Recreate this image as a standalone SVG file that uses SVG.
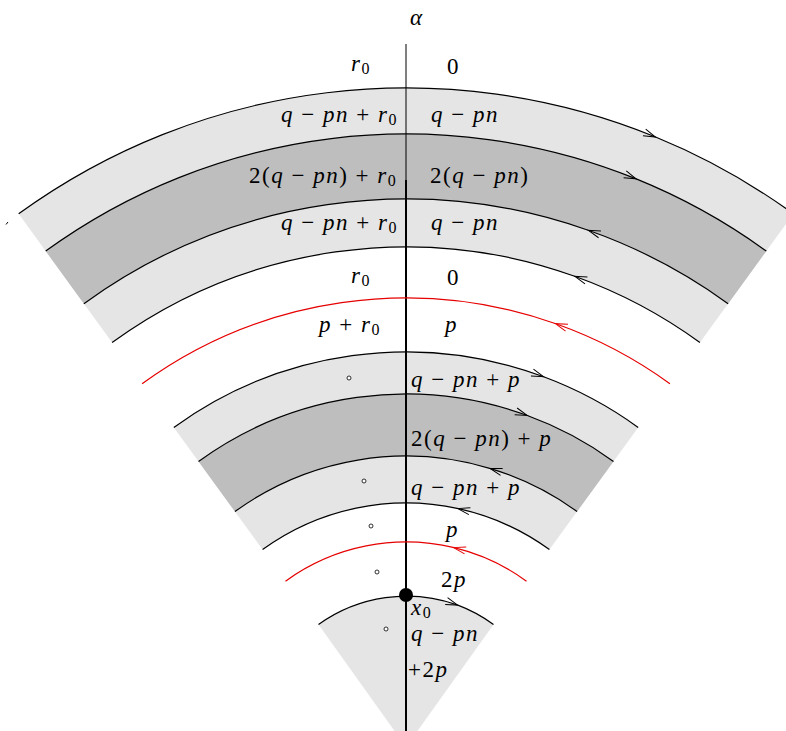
<svg xmlns="http://www.w3.org/2000/svg" width="786" height="731" viewBox="0 0 786 731">
<defs>
<style>
.lg{fill:#e5e5e5;stroke:none}
.dg{fill:#bebebe;stroke:none}
.arc{fill:none;stroke:#000;stroke-width:1.2}
.red{fill:none;stroke:#e60000;stroke-width:1.2}
.m{font-size:23px;font-style:italic;fill:#000;letter-spacing:1.5px}
.u{font-style:normal}
.s{font-size:16px;font-style:normal}
.pt{fill:#fff;stroke:#000;stroke-width:0.8}
</style>
<marker id="ah" markerUnits="userSpaceOnUse" markerWidth="14" markerHeight="10" refX="12" refY="4" orient="auto" overflow="visible"><path d="M0.5,0.4 L12.5,4 L0.5,7.6" fill="none" stroke="#000" stroke-width="1"/></marker>
<marker id="ahr" markerUnits="userSpaceOnUse" markerWidth="14" markerHeight="10" refX="12" refY="4" orient="auto" overflow="visible"><path d="M0.5,0.4 L12.5,4 L0.5,7.6" fill="none" stroke="#e60000" stroke-width="1"/></marker>
</defs>
<rect x="0" y="0" width="786" height="731" fill="#fff"/>
<g id="bands">
<path class="lg" d="M18.65,213.86 A659,659 0 0 1 793.35,213.86 L699.89,342.49 A500,500 0 0 0 112.11,342.49 Z"/>
<path class="dg" d="M45.68,251.07 A613,613 0 0 1 766.32,251.07 L728.11,303.66 A548,548 0 0 0 83.89,303.66 Z"/>
<path class="lg" d="M173.82,427.44 A395,395 0 0 1 638.18,427.44 L549.42,549.6 A244,244 0 0 0 262.58,549.6 Z"/>
<path class="dg" d="M198.51,461.42 A353,353 0 0 1 613.49,461.42 L577.05,511.58 A291,291 0 0 0 234.95,511.58 Z"/>
<path class="lg" d="M318.5,624.5 A151,151 0 0 1 493.5,624.5 L406,747 Z"/>
</g>
<g id="connectors">
<line x1="406" y1="44" x2="406" y2="181" stroke="#000" stroke-width="1"/>
<line x1="406" y1="180" x2="406" y2="731" stroke="#000" stroke-width="2"/>
<path class="arc" d="M18.65,213.86 A659,659 0 0 1 655,136.8" marker-end="url(#ah)"/>
<path class="arc" d="M655,136.8 A659,659 0 0 1 793.35,213.86"/>
<path class="arc" d="M45.68,251.07 A613,613 0 0 1 635.6,178.6" marker-end="url(#ah)"/>
<path class="arc" d="M635.6,178.6 A613,613 0 0 1 766.32,251.07"/>
<path class="arc" d="M728.11,303.66 A548,548 0 0 0 588.9,230.5" marker-end="url(#ah)"/>
<path class="arc" d="M588.9,230.5 A548,548 0 0 0 83.89,303.66"/>
<path class="arc" d="M699.89,342.49 A500,500 0 0 0 575.4,276.5" marker-end="url(#ah)"/>
<path class="arc" d="M575.4,276.5 A500,500 0 0 0 112.11,342.49"/>
<path class="red" d="M669.92,383.75 A449,449 0 0 0 555.9,323.8" marker-end="url(#ahr)"/>
<path class="red" d="M555.9,323.8 A449,449 0 0 0 142.08,383.75"/>
<path class="arc" d="M173.82,427.44 A395,395 0 0 1 543,376.5" marker-end="url(#ah)"/>
<path class="arc" d="M543,376.5 A395,395 0 0 1 638.18,427.44"/>
<path class="arc" d="M198.51,461.42 A353,353 0 0 1 526.7,415.3" marker-end="url(#ah)"/>
<path class="arc" d="M526.7,415.3 A353,353 0 0 1 613.49,461.42"/>
<path class="arc" d="M577.05,511.58 A291,291 0 0 0 490.6,468.6" marker-end="url(#ah)"/>
<path class="arc" d="M490.6,468.6 A291,291 0 0 0 234.95,511.58"/>
<path class="arc" d="M549.42,549.6 A244,244 0 0 0 458.4,508.7" marker-end="url(#ah)"/>
<path class="arc" d="M458.4,508.7 A244,244 0 0 0 262.58,549.6"/>
<path class="red" d="M526.5,581.15 A205,205 0 0 0 454.2,547.7" marker-end="url(#ahr)"/>
<path class="red" d="M454.2,547.7 A205,205 0 0 0 285.5,581.15"/>
<path class="arc" d="M318.5,624.5 A151,151 0 0 1 457.2,604.9" marker-end="url(#ah)"/>
<path class="arc" d="M457.2,604.9 A151,151 0 0 1 493.5,624.5"/>
<path d="M6,224.5 L8,222" fill="none" stroke="#000" stroke-width="1"/>
</g>
<g id="points">
<circle class="pt" cx="349" cy="378" r="2"/>
<circle class="pt" cx="364" cy="481" r="2"/>
<circle class="pt" cx="371" cy="526" r="2"/>
<circle class="pt" cx="377" cy="572" r="2"/>
<circle class="pt" cx="386" cy="629" r="2"/>
<circle id="x0-point" cx="406" cy="595" r="7" fill="#000"/>
</g>
<g id="labels" font-family="Liberation Serif, Times New Roman, serif">
<text class="m" x="410" y="25">α</text>
<text class="m" x="351" y="71">r<tspan class="s" dy="3">0</tspan></text>
<text class="m" x="447" y="74"><tspan class="u">0</tspan></text>
<text class="m" x="281" y="122">q <tspan class="u">−</tspan> pn <tspan class="u">+</tspan> r<tspan class="s" dy="3">0</tspan></text>
<text class="m" x="431" y="122">q <tspan class="u">−</tspan> pn</text>
<text class="m" x="249" y="183"><tspan class="u">2(</tspan>q <tspan class="u">−</tspan> pn<tspan class="u">) +</tspan> r<tspan class="s" dy="3">0</tspan></text>
<text class="m" x="430" y="183"><tspan class="u">2(</tspan>q <tspan class="u">−</tspan> pn<tspan class="u">)</tspan></text>
<text class="m" x="281" y="230">q <tspan class="u">−</tspan> pn <tspan class="u">+</tspan> r<tspan class="s" dy="3">0</tspan></text>
<text class="m" x="431" y="230">q <tspan class="u">−</tspan> pn</text>
<text class="m" x="351" y="283">r<tspan class="s" dy="3">0</tspan></text>
<text class="m" x="447" y="285"><tspan class="u">0</tspan></text>
<text class="m" x="319" y="332">p <tspan class="u">+</tspan> r<tspan class="s" dy="3">0</tspan></text>
<text class="m" x="445" y="332">p</text>
<text class="m" x="411" y="387">q <tspan class="u">−</tspan> pn <tspan class="u">+</tspan> p</text>
<text class="m" x="411" y="446"><tspan class="u">2(</tspan>q <tspan class="u">−</tspan> pn<tspan class="u">) +</tspan> p</text>
<text class="m" x="411" y="495">q <tspan class="u">−</tspan> pn <tspan class="u">+</tspan> p</text>
<text class="m" x="446" y="537">p</text>
<text class="m" x="441" y="587"><tspan class="u">2</tspan>p</text>
<text class="m" x="411" y="615">x<tspan class="s" dy="3">0</tspan></text>
<text class="m" x="411" y="641">q <tspan class="u">−</tspan> pn</text>
<text class="m" x="408" y="677"><tspan class="u">+2</tspan>p</text>
</g>
</svg>
